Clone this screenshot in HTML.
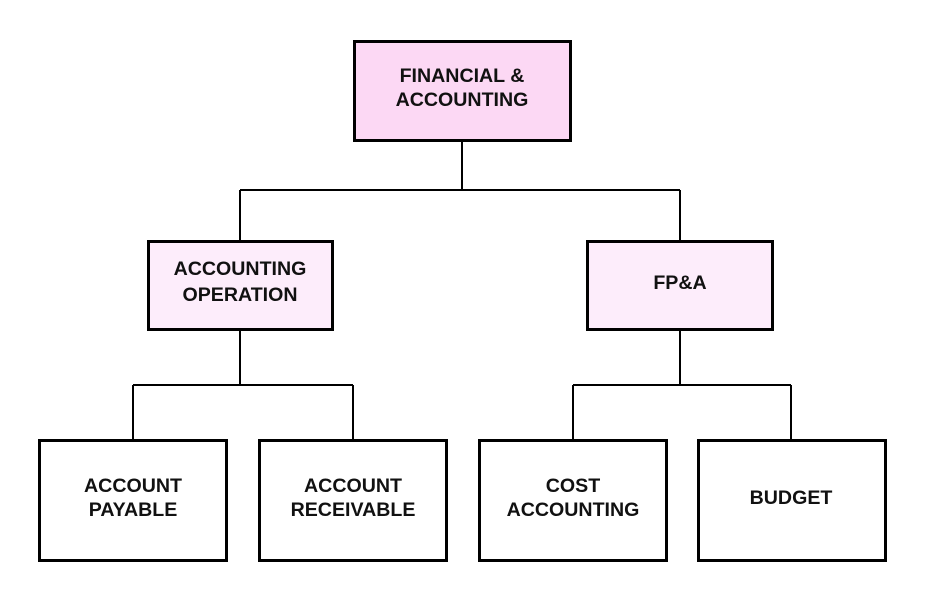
<!DOCTYPE html>
<html><head><style>
body{margin:0;background:#fff}
svg text{font-family:"Liberation Sans",sans-serif;font-weight:bold;font-size:19.6px;fill:#111;text-anchor:middle}
</style></head><body>
<svg width="925" height="600" viewBox="0 0 925 600" xmlns="http://www.w3.org/2000/svg">
<g stroke="#000" stroke-width="2" fill="none">
<path d="M462 141V190M240 190H680M240 190V240M680 190V240"/>
<path d="M240 330V385M133 385H353M133 385V439M353 385V439"/>
<path d="M680 330V385M573 385H791M573 385V439M791 385V439"/>
</g>
<g stroke="#000" stroke-width="3">
<rect x="354.5" y="41.5" width="216" height="99" fill="#fcd8f4"/>
<rect x="148.5" y="241.5" width="184" height="88" fill="#fdedfb"/>
<rect x="587.5" y="241.5" width="185" height="88" fill="#fdedfb"/>
<rect x="39.5" y="440.5" width="187" height="120" fill="#fff"/>
<rect x="259.5" y="440.5" width="187" height="120" fill="#fff"/>
<rect x="479.5" y="440.5" width="187" height="120" fill="#fff"/>
<rect x="698.5" y="440.5" width="187" height="120" fill="#fff"/>
</g>
<text x="462" y="82">FINANCIAL &amp;</text>
<text x="462" y="106">ACCOUNTING</text>
<text x="240" y="275">ACCOUNTING</text>
<text x="240" y="301">OPERATION</text>
<text x="680" y="289">FP&amp;A</text>
<text x="133" y="492">ACCOUNT</text>
<text x="133" y="516">PAYABLE</text>
<text x="353" y="492">ACCOUNT</text>
<text x="353" y="516">RECEIVABLE</text>
<text x="573" y="492">COST</text>
<text x="573" y="516">ACCOUNTING</text>
<text x="791" y="504">BUDGET</text>
</svg>
</body></html>
